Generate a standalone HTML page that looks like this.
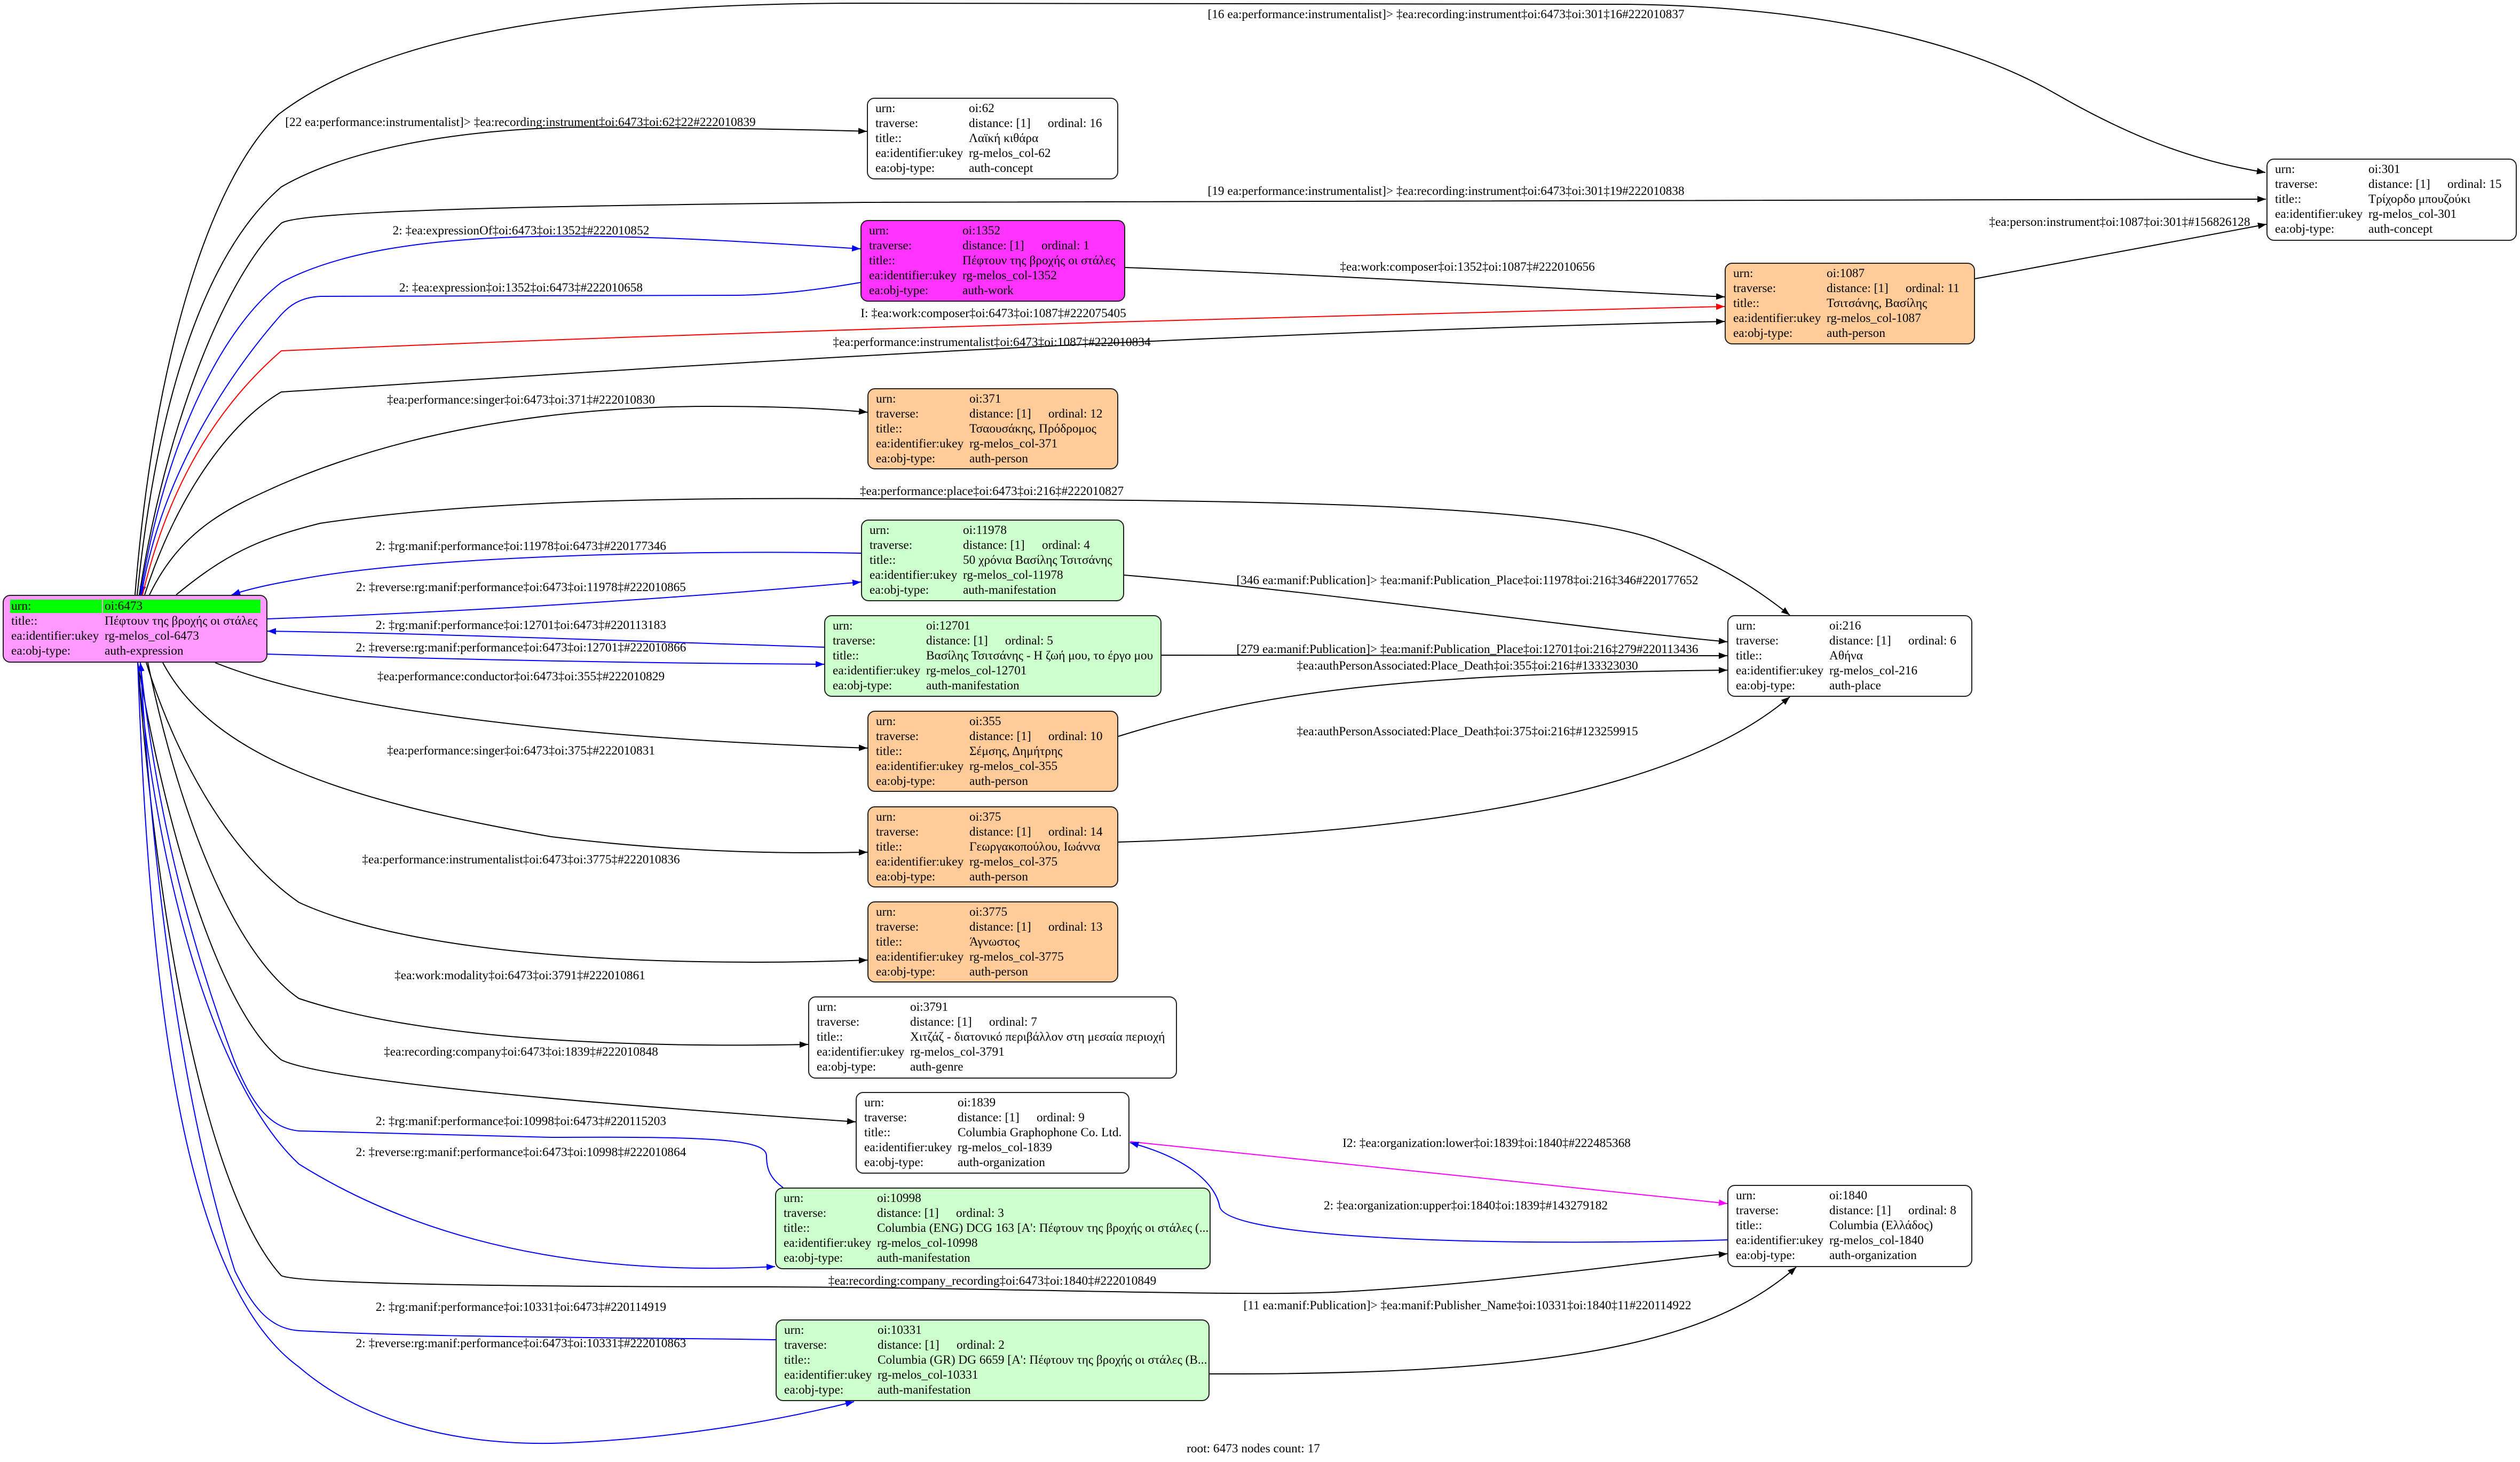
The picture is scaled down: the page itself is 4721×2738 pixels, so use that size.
<!DOCTYPE html>
<html>
<head>
<meta charset="utf-8">
<style>
  html, body { margin:0; padding:0; background:#ffffff; }
  #page { position:relative; width:4721px; height:2738px; overflow:hidden; background:#ffffff;
          font-family:"Liberation Serif","DejaVu Serif",serif; font-size:23.3px; color:#000; }
  svg.edges { position:absolute; left:0; top:0; }
  .n { position:absolute; box-sizing:border-box; border:2px solid #222; border-radius:14px; background:#fff; white-space:nowrap; }
  .r { position:absolute; left:0; height:28px; line-height:28px; width:100%; }
  .k { position:absolute; left:14px; top:0; }
  .v { position:absolute; left:189px; top:0; }
  .o { position:absolute; left:337px; top:0; }
  .g { position:absolute; background:#00ff00; top:7px; height:25px; }
  .or { background:#ffcc99; }
  .gr { background:#ccffcc; }
  svg text { font-family:"Liberation Serif","DejaVu Serif",serif; font-size:23.3px; fill:#000; }
</style>
</head>
<body>
<div id="page">
<svg class="edges" width="4721" height="2738" viewBox="0 0 4721 2738" xmlns="http://www.w3.org/2000/svg">
  <defs>
    <marker id="ab" viewBox="0 0 16 12" refX="16" refY="6" markerWidth="16" markerHeight="12" markerUnits="userSpaceOnUse" orient="auto"><path d="M0,0 L16,6 L0,12 z" fill="#000"/></marker>
    <marker id="au" viewBox="0 0 16 12" refX="16" refY="6" markerWidth="16" markerHeight="12" markerUnits="userSpaceOnUse" orient="auto"><path d="M0,0 L16,6 L0,12 z" fill="#0000ff"/></marker>
    <marker id="ar" viewBox="0 0 16 12" refX="16" refY="6" markerWidth="16" markerHeight="12" markerUnits="userSpaceOnUse" orient="auto"><path d="M0,0 L16,6 L0,12 z" fill="#ff0000"/></marker>
    <marker id="am" viewBox="0 0 16 12" refX="16" refY="6" markerWidth="16" markerHeight="12" markerUnits="userSpaceOnUse" orient="auto"><path d="M0,0 L16,6 L0,12 z" fill="#ff00ff"/></marker>
  </defs>
  <g fill="none" stroke-width="2">
    <path stroke="#000" marker-end="url(#ab)" d="M253,1114 C290,650 400,330 522,214 C750,40 1200,6 1620,6 L3050,8 C3350,12 3650,60 3850,175 C3980,250 4100,300 4244,323"/>
    <path stroke="#000" marker-end="url(#ab)" d="M257,1114 C300,700 400,460 527,350 C700,250 1000,236 1136,238 C1350,240 1500,242 1624,246"/>
    <path stroke="#000" marker-end="url(#ab)" d="M261,1114 C310,800 420,520 527,418 C560,395 1000,385 1620,379 L4245,373"/>
    <path stroke="#0000ff" marker-end="url(#au)" d="M263,1114 C310,820 420,610 527,529 C750,410 1200,440 1612,466"/>
    <path stroke="#0000ff" marker-end="url(#au)" d="M1612,529 C1520,545 1450,552 1380,553 L600,555 C560,557 540,575 527,589 C420,710 300,900 265,1114"/>
    <path stroke="#ff0000" marker-end="url(#ar)" d="M267,1114 C320,890 420,750 527,657 C1000,637 1620,612 3231,574"/>
    <path stroke="#000" marker-end="url(#ab)" d="M271,1114 C330,930 430,790 527,734 C1000,705 2000,630 3231,602"/>
    <path stroke="#000" marker-end="url(#ab)" d="M2108,501 C2500,515 2900,540 3231,556"/>
    <path stroke="#000" marker-end="url(#ab)" d="M3700,522 L4246,420"/>
    <path stroke="#000" marker-end="url(#ab)" d="M280,1114 C340,990 430,950 527,907 C800,790 1100,761 1333,761 C1450,761 1550,765 1625,772"/>
    <path stroke="#000" marker-end="url(#ab)" d="M330,1114 C420,1040 480,1010 600,980 C900,935 1300,932 1620,934 C2300,936 2900,940 3100,1010 C3230,1060 3300,1110 3353,1152"/>
    <path stroke="#0000ff" marker-end="url(#au)" d="M1613,1036 C1300,1030 800,1040 560,1085 C500,1095 460,1105 434,1114"/>
    <path stroke="#0000ff" marker-end="url(#au)" d="M501,1159 C900,1145 1300,1118 1613,1090"/>
    <path stroke="#0000ff" marker-end="url(#au)" d="M1544,1212 C1100,1198 800,1186 501,1182"/>
    <path stroke="#0000ff" marker-end="url(#au)" d="M501,1225 C900,1236 1200,1242 1544,1244"/>
    <path stroke="#000" marker-end="url(#ab)" d="M2106,1077 C2500,1110 2900,1170 3236,1202"/>
    <path stroke="#000" marker-end="url(#ab)" d="M2176,1227 L3236,1228"/>
    <path stroke="#000" marker-end="url(#ab)" d="M2095,1379 C2350,1300 2600,1262 3236,1255"/>
    <path stroke="#000" marker-end="url(#ab)" d="M2095,1577 C2700,1560 3150,1480 3353,1305"/>
    <path stroke="#000" marker-end="url(#ab)" d="M403,1241 C600,1320 1000,1380 1625,1401"/>
    <path stroke="#000" marker-end="url(#ab)" d="M305,1241 C400,1420 650,1500 1033,1567 C1300,1600 1500,1598 1625,1596"/>
    <path stroke="#000" marker-end="url(#ab)" d="M274,1241 C330,1420 430,1600 560,1690 C800,1800 1300,1810 1625,1798"/>
    <path stroke="#000" marker-end="url(#ab)" d="M277,1241 C330,1500 430,1780 560,1870 C800,1950 1200,1962 1514,1956"/>
    <path stroke="#000" marker-end="url(#ab)" d="M258,1241 C320,1600 420,1900 527,1985 C600,2020 1000,2060 1603,2101"/>
    <path stroke="#0000ff" marker-end="url(#au)" d="M1467,2224 C1440,2205 1436,2185 1436,2165 C1436,2135 1350,2128 1033,2130 L560,2118 C500,2112 470,2060 440,1990 C350,1750 290,1500 263,1241"/>
    <path stroke="#0000ff" marker-end="url(#au)" d="M258,1241 C300,1700 420,2050 560,2180 C800,2330 1100,2390 1452,2372"/>
    <path stroke="#ff00ff" marker-end="url(#am)" d="M2117,2138 L3236,2254"/>
    <path stroke="#0000ff" marker-end="url(#au)" d="M3236,2322 C2800,2335 2300,2320 2285,2260 C2278,2220 2230,2170 2117,2140"/>
    <path stroke="#000" marker-end="url(#ab)" d="M258,1241 C300,1800 400,2250 527,2389 C560,2405 1000,2410 1440,2410 C1900,2412 2300,2428 2500,2420 C2800,2405 3100,2360 3236,2348"/>
    <path stroke="#0000ff" marker-end="url(#au)" d="M1453,2509 C1200,2505 800,2505 560,2492 C500,2488 470,2440 440,2380 C350,2100 290,1700 263,1241"/>
    <path stroke="#000" marker-end="url(#ab)" d="M2266,2573 C2900,2575 3200,2520 3365,2373"/>
    <path stroke="#0000ff" marker-end="url(#au)" d="M258,1241 C280,1850 340,2400 560,2560 C700,2680 900,2712 1085,2701 C1300,2690 1480,2655 1600,2625"/>
  </g>
  <g text-anchor="middle">
    <text x="2709" y="34">[16 ea:performance:instrumentalist]&gt; ‡ea:recording:instrument‡oi:6473‡oi:301‡16#222010837</text>
    <text x="975" y="236">[22 ea:performance:instrumentalist]&gt; ‡ea:recording:instrument‡oi:6473‡oi:62‡22#222010839</text>
    <text x="2709" y="365">[19 ea:performance:instrumentalist]&gt; ‡ea:recording:instrument‡oi:6473‡oi:301‡19#222010838</text>
    <text x="976" y="439">2: ‡ea:expressionOf‡oi:6473‡oi:1352‡#222010852</text>
    <text x="976" y="546">2: ‡ea:expression‡oi:1352‡oi:6473‡#222010658</text>
    <text x="2749" y="507">‡ea:work:composer‡oi:1352‡oi:1087‡#222010656</text>
    <text x="1861" y="594">I: ‡ea:work:composer‡oi:6473‡oi:1087‡#222075405</text>
    <text x="1858" y="648">‡ea:performance:instrumentalist‡oi:6473‡oi:1087‡#222010834</text>
    <text x="3971" y="423">‡ea:person:instrument‡oi:1087‡oi:301‡#156826128</text>
    <text x="976" y="756">‡ea:performance:singer‡oi:6473‡oi:371‡#222010830</text>
    <text x="1858" y="927">‡ea:performance:place‡oi:6473‡oi:216‡#222010827</text>
    <text x="976" y="1030">2: ‡rg:manif:performance‡oi:11978‡oi:6473‡#220177346</text>
    <text x="976" y="1107">2: ‡reverse:rg:manif:performance‡oi:6473‡oi:11978‡#222010865</text>
    <text x="2749" y="1094">[346 ea:manif:Publication]&gt; ‡ea:manif:Publication_Place‡oi:11978‡oi:216‡346#220177652</text>
    <text x="976" y="1178">2: ‡rg:manif:performance‡oi:12701‡oi:6473‡#220113183</text>
    <text x="976" y="1220">2: ‡reverse:rg:manif:performance‡oi:6473‡oi:12701‡#222010866</text>
    <text x="2749" y="1223">[279 ea:manif:Publication]&gt; ‡ea:manif:Publication_Place‡oi:12701‡oi:216‡279#220113436</text>
    <text x="2749" y="1254">‡ea:authPersonAssociated:Place_Death‡oi:355‡oi:216‡#133323030</text>
    <text x="976" y="1274">‡ea:performance:conductor‡oi:6473‡oi:355‡#222010829</text>
    <text x="2749" y="1377">‡ea:authPersonAssociated:Place_Death‡oi:375‡oi:216‡#123259915</text>
    <text x="976" y="1413">‡ea:performance:singer‡oi:6473‡oi:375‡#222010831</text>
    <text x="976" y="1617">‡ea:performance:instrumentalist‡oi:6473‡oi:3775‡#222010836</text>
    <text x="974" y="1834">‡ea:work:modality‡oi:6473‡oi:3791‡#222010861</text>
    <text x="976" y="1977">‡ea:recording:company‡oi:6473‡oi:1839‡#222010848</text>
    <text x="976" y="2107">2: ‡rg:manif:performance‡oi:10998‡oi:6473‡#220115203</text>
    <text x="976" y="2165">2: ‡reverse:rg:manif:performance‡oi:6473‡oi:10998‡#222010864</text>
    <text x="2785" y="2148">I2: ‡ea:organization:lower‡oi:1839‡oi:1840‡#222485368</text>
    <text x="2746" y="2265">2: ‡ea:organization:upper‡oi:1840‡oi:1839‡#143279182</text>
    <text x="1859" y="2406">‡ea:recording:company_recording‡oi:6473‡oi:1840‡#222010849</text>
    <text x="976" y="2455">2: ‡rg:manif:performance‡oi:10331‡oi:6473‡#220114919</text>
    <text x="2749" y="2452">[11 ea:manif:Publication]&gt; ‡ea:manif:Publisher_Name‡oi:10331‡oi:1840‡11#220114922</text>
    <text x="976" y="2523">2: ‡reverse:rg:manif:performance‡oi:6473‡oi:10331‡#222010863</text>
    <text x="2348" y="2720">root: 6473 nodes count: 17</text>
  </g>
</svg>

<div class="n" style="left:5px;top:1114px;width:496px;height:127px;background:#ff99ff;">
  <div class="g" style="left:12px;width:172px;"></div>
  <div class="g" style="left:186px;width:295px;"></div>
  <div class="r" style="top:5px"><span class="k">urn:</span><span class="v">oi:6473</span></div>
  <div class="r" style="top:33px"><span class="k">title::</span><span class="v">Πέφτουν της βροχής οι στάλες</span></div>
  <div class="r" style="top:61px"><span class="k">ea:identifier:ukey</span><span class="v">rg-melos_col-6473</span></div>
  <div class="r" style="top:89px"><span class="k">ea:obj-type:</span><span class="v">auth-expression</span></div>
</div>

<div class="n" style="left:1624px;top:183px;width:471px;height:153px;">
  <div class="r" style="top:4px"><span class="k">urn:</span><span class="v">oi:62</span></div>
  <div class="r" style="top:32px"><span class="k">traverse:</span><span class="v">distance: [1]</span><span class="o">ordinal: 16</span></div>
  <div class="r" style="top:60px"><span class="k">title::</span><span class="v">Λαϊκή κιθάρα</span></div>
  <div class="r" style="top:88px"><span class="k">ea:identifier:ukey</span><span class="v">rg-melos_col-62</span></div>
  <div class="r" style="top:116px"><span class="k">ea:obj-type:</span><span class="v">auth-concept</span></div>
</div>

<div class="n" style="left:4246px;top:297px;width:469px;height:154px;">
  <div class="r" style="top:4px"><span class="k">urn:</span><span class="v">oi:301</span></div>
  <div class="r" style="top:32px"><span class="k">traverse:</span><span class="v">distance: [1]</span><span class="o">ordinal: 15</span></div>
  <div class="r" style="top:60px"><span class="k">title::</span><span class="v">Τρίχορδο μπουζούκι</span></div>
  <div class="r" style="top:88px"><span class="k">ea:identifier:ukey</span><span class="v">rg-melos_col-301</span></div>
  <div class="r" style="top:116px"><span class="k">ea:obj-type:</span><span class="v">auth-concept</span></div>
</div>

<div class="n" style="left:1612px;top:412px;width:496px;height:153px;background:#ff33ff;">
  <div class="r" style="top:4px"><span class="k">urn:</span><span class="v">oi:1352</span></div>
  <div class="r" style="top:32px"><span class="k">traverse:</span><span class="v">distance: [1]</span><span class="o">ordinal: 1</span></div>
  <div class="r" style="top:60px"><span class="k">title::</span><span class="v">Πέφτουν της βροχής οι στάλες</span></div>
  <div class="r" style="top:88px"><span class="k">ea:identifier:ukey</span><span class="v">rg-melos_col-1352</span></div>
  <div class="r" style="top:116px"><span class="k">ea:obj-type:</span><span class="v">auth-work</span></div>
</div>

<div class="n or" style="left:3231px;top:492px;width:469px;height:153px;">
  <div class="r" style="top:4px"><span class="k">urn:</span><span class="v">oi:1087</span></div>
  <div class="r" style="top:32px"><span class="k">traverse:</span><span class="v">distance: [1]</span><span class="o">ordinal: 11</span></div>
  <div class="r" style="top:60px"><span class="k">title::</span><span class="v">Τσιτσάνης, Βασίλης</span></div>
  <div class="r" style="top:88px"><span class="k">ea:identifier:ukey</span><span class="v">rg-melos_col-1087</span></div>
  <div class="r" style="top:116px"><span class="k">ea:obj-type:</span><span class="v">auth-person</span></div>
</div>

<div class="n or" style="left:1625px;top:727px;width:470px;height:152px;">
  <div class="r" style="top:4px"><span class="k">urn:</span><span class="v">oi:371</span></div>
  <div class="r" style="top:32px"><span class="k">traverse:</span><span class="v">distance: [1]</span><span class="o">ordinal: 12</span></div>
  <div class="r" style="top:60px"><span class="k">title::</span><span class="v">Τσαουσάκης, Πρόδρομος</span></div>
  <div class="r" style="top:88px"><span class="k">ea:identifier:ukey</span><span class="v">rg-melos_col-371</span></div>
  <div class="r" style="top:116px"><span class="k">ea:obj-type:</span><span class="v">auth-person</span></div>
</div>

<div class="n gr" style="left:1613px;top:973px;width:493px;height:153px;">
  <div class="r" style="top:4px"><span class="k">urn:</span><span class="v">oi:11978</span></div>
  <div class="r" style="top:32px"><span class="k">traverse:</span><span class="v">distance: [1]</span><span class="o">ordinal: 4</span></div>
  <div class="r" style="top:60px"><span class="k">title::</span><span class="v">50 χρόνια Βασίλης Τσιτσάνης</span></div>
  <div class="r" style="top:88px"><span class="k">ea:identifier:ukey</span><span class="v">rg-melos_col-11978</span></div>
  <div class="r" style="top:116px"><span class="k">ea:obj-type:</span><span class="v">auth-manifestation</span></div>
</div>

<div class="n gr" style="left:1544px;top:1152px;width:632px;height:153px;">
  <div class="r" style="top:4px"><span class="k">urn:</span><span class="v">oi:12701</span></div>
  <div class="r" style="top:32px"><span class="k">traverse:</span><span class="v">distance: [1]</span><span class="o">ordinal: 5</span></div>
  <div class="r" style="top:60px"><span class="k">title::</span><span class="v">Βασίλης Τσιτσάνης - Η ζωή μου, το έργο μου</span></div>
  <div class="r" style="top:88px"><span class="k">ea:identifier:ukey</span><span class="v">rg-melos_col-12701</span></div>
  <div class="r" style="top:116px"><span class="k">ea:obj-type:</span><span class="v">auth-manifestation</span></div>
</div>

<div class="n" style="left:3236px;top:1152px;width:459px;height:153px;">
  <div class="r" style="top:4px"><span class="k">urn:</span><span class="v">oi:216</span></div>
  <div class="r" style="top:32px"><span class="k">traverse:</span><span class="v">distance: [1]</span><span class="o">ordinal: 6</span></div>
  <div class="r" style="top:60px"><span class="k">title::</span><span class="v">Αθήνα</span></div>
  <div class="r" style="top:88px"><span class="k">ea:identifier:ukey</span><span class="v">rg-melos_col-216</span></div>
  <div class="r" style="top:116px"><span class="k">ea:obj-type:</span><span class="v">auth-place</span></div>
</div>

<div class="n or" style="left:1625px;top:1331px;width:470px;height:152px;">
  <div class="r" style="top:4px"><span class="k">urn:</span><span class="v">oi:355</span></div>
  <div class="r" style="top:32px"><span class="k">traverse:</span><span class="v">distance: [1]</span><span class="o">ordinal: 10</span></div>
  <div class="r" style="top:60px"><span class="k">title::</span><span class="v">Σέμσης, Δημήτρης</span></div>
  <div class="r" style="top:88px"><span class="k">ea:identifier:ukey</span><span class="v">rg-melos_col-355</span></div>
  <div class="r" style="top:116px"><span class="k">ea:obj-type:</span><span class="v">auth-person</span></div>
</div>

<div class="n or" style="left:1625px;top:1510px;width:470px;height:152px;">
  <div class="r" style="top:4px"><span class="k">urn:</span><span class="v">oi:375</span></div>
  <div class="r" style="top:32px"><span class="k">traverse:</span><span class="v">distance: [1]</span><span class="o">ordinal: 14</span></div>
  <div class="r" style="top:60px"><span class="k">title::</span><span class="v">Γεωργακοπούλου, Ιωάννα</span></div>
  <div class="r" style="top:88px"><span class="k">ea:identifier:ukey</span><span class="v">rg-melos_col-375</span></div>
  <div class="r" style="top:116px"><span class="k">ea:obj-type:</span><span class="v">auth-person</span></div>
</div>

<div class="n or" style="left:1625px;top:1688px;width:470px;height:152px;">
  <div class="r" style="top:4px"><span class="k">urn:</span><span class="v">oi:3775</span></div>
  <div class="r" style="top:32px"><span class="k">traverse:</span><span class="v">distance: [1]</span><span class="o">ordinal: 13</span></div>
  <div class="r" style="top:60px"><span class="k">title::</span><span class="v">Άγνωστος</span></div>
  <div class="r" style="top:88px"><span class="k">ea:identifier:ukey</span><span class="v">rg-melos_col-3775</span></div>
  <div class="r" style="top:116px"><span class="k">ea:obj-type:</span><span class="v">auth-person</span></div>
</div>

<div class="n" style="left:1514px;top:1866px;width:691px;height:154px;">
  <div class="r" style="top:4px"><span class="k">urn:</span><span class="v">oi:3791</span></div>
  <div class="r" style="top:32px"><span class="k">traverse:</span><span class="v">distance: [1]</span><span class="o">ordinal: 7</span></div>
  <div class="r" style="top:60px"><span class="k">title::</span><span class="v">Χιτζάζ - διατονικό περιβάλλον στη μεσαία περιοχή</span></div>
  <div class="r" style="top:88px"><span class="k">ea:identifier:ukey</span><span class="v">rg-melos_col-3791</span></div>
  <div class="r" style="top:116px"><span class="k">ea:obj-type:</span><span class="v">auth-genre</span></div>
</div>

<div class="n" style="left:1603px;top:2045px;width:513px;height:153px;">
  <div class="r" style="top:4px"><span class="k">urn:</span><span class="v">oi:1839</span></div>
  <div class="r" style="top:32px"><span class="k">traverse:</span><span class="v">distance: [1]</span><span class="o">ordinal: 9</span></div>
  <div class="r" style="top:60px"><span class="k">title::</span><span class="v">Columbia Graphophone Co. Ltd.</span></div>
  <div class="r" style="top:88px"><span class="k">ea:identifier:ukey</span><span class="v">rg-melos_col-1839</span></div>
  <div class="r" style="top:116px"><span class="k">ea:obj-type:</span><span class="v">auth-organization</span></div>
</div>

<div class="n gr" style="left:1452px;top:2224px;width:816px;height:153px;">
  <div class="r" style="top:4px"><span class="k">urn:</span><span class="v">oi:10998</span></div>
  <div class="r" style="top:32px"><span class="k">traverse:</span><span class="v">distance: [1]</span><span class="o">ordinal: 3</span></div>
  <div class="r" style="top:60px"><span class="k">title::</span><span class="v">Columbia (ENG) DCG 163 [A': Πέφτουν της βροχής οι στάλες (...</span></div>
  <div class="r" style="top:88px"><span class="k">ea:identifier:ukey</span><span class="v">rg-melos_col-10998</span></div>
  <div class="r" style="top:116px"><span class="k">ea:obj-type:</span><span class="v">auth-manifestation</span></div>
</div>

<div class="n" style="left:3236px;top:2219px;width:459px;height:154px;">
  <div class="r" style="top:4px"><span class="k">urn:</span><span class="v">oi:1840</span></div>
  <div class="r" style="top:32px"><span class="k">traverse:</span><span class="v">distance: [1]</span><span class="o">ordinal: 8</span></div>
  <div class="r" style="top:60px"><span class="k">title::</span><span class="v">Columbia (Ελλάδος)</span></div>
  <div class="r" style="top:88px"><span class="k">ea:identifier:ukey</span><span class="v">rg-melos_col-1840</span></div>
  <div class="r" style="top:116px"><span class="k">ea:obj-type:</span><span class="v">auth-organization</span></div>
</div>

<div class="n gr" style="left:1453px;top:2471px;width:813px;height:153px;">
  <div class="r" style="top:4px"><span class="k">urn:</span><span class="v">oi:10331</span></div>
  <div class="r" style="top:32px"><span class="k">traverse:</span><span class="v">distance: [1]</span><span class="o">ordinal: 2</span></div>
  <div class="r" style="top:60px"><span class="k">title::</span><span class="v">Columbia (GR) DG 6659 [A': Πέφτουν της βροχής οι στάλες (B...</span></div>
  <div class="r" style="top:88px"><span class="k">ea:identifier:ukey</span><span class="v">rg-melos_col-10331</span></div>
  <div class="r" style="top:116px"><span class="k">ea:obj-type:</span><span class="v">auth-manifestation</span></div>
</div>

</div>
</body>
</html>
